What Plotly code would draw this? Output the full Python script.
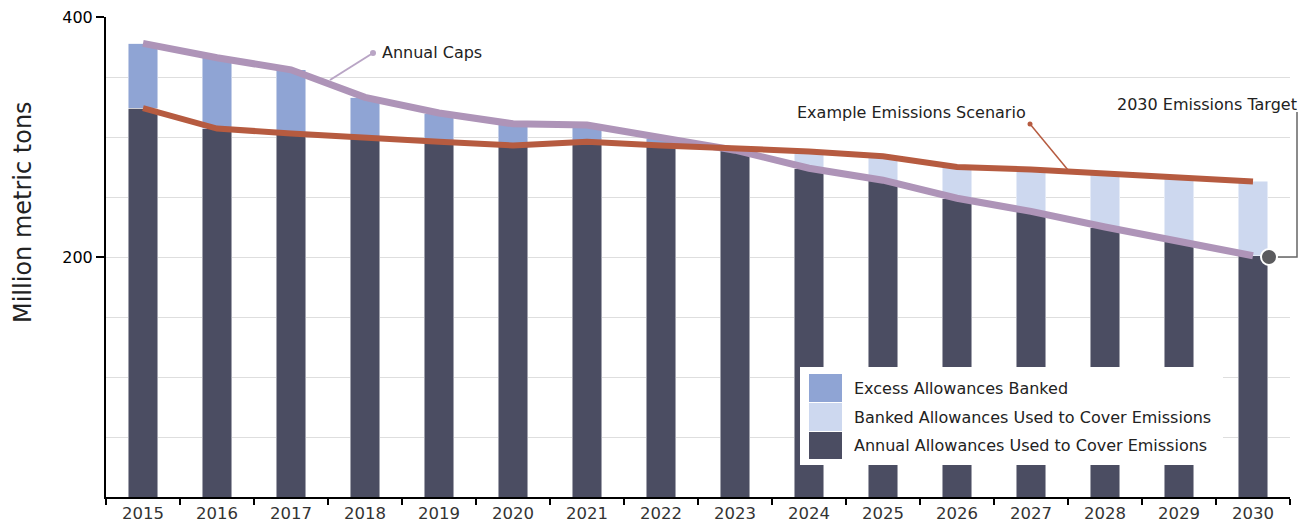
import plotly.graph_objects as go

# ---------------- data ----------------
years = [str(y) for y in range(2015, 2031)]
annual_caps = [378, 366, 356, 333, 320, 311, 310, 299, 289, 274, 264, 249, 238, 225, 213, 201]
emissions_scenario = [324, 307, 303, 299, 296, 293, 296, 293, 291, 288, 284, 275, 273, 270, 267, 263]
annual_used = [324, 307, 303, 299, 296, 293, 296, 293, 289, 274, 264, 249, 238, 225, 213, 201]
excess_banked = [54, 59, 53, 34, 24, 18, 14, 6, 0, 0, 0, 0, 0, 0, 0, 0]
banked_used = [0, 0, 0, 0, 0, 0, 0, 0, 2, 14, 20, 26, 35, 45, 54, 62]
target_2030 = 200

legend_labels = [
    "Excess Allowances Banked",
    "Banked Allowances Used to Cover Emissions",
    "Annual Allowances Used to Cover Emissions",
]

# ---------------- style ----------------
C_DARK = "#4b4d62"
C_EXCESS = "#8fa4d4"
C_BANKED = "#cdd8ef"
C_CAP = "#ae94b8"
C_EMIS = "#b65b40"
FONT = "DejaVu Sans"

# page body has an 8px default margin; plot area targeted at page px
OFF = 8
PLOT_L, PLOT_R, PLOT_T, PLOT_B = 106, 1290, 17, 497
W, H = 1307 - OFF - 2, 527 - OFF - 2
L, T = PLOT_L - OFF, PLOT_T - OFF
R = W - (PLOT_R - OFF)
B = H - (PLOT_B - OFF)
PW, PH = PLOT_R - PLOT_L, PLOT_B - PLOT_T


def px_x(x):
    return (x - PLOT_L) / PW


def px_y(y):
    return (PLOT_B - y) / PH


fig = go.Figure()
bar_line = dict(width=0.8, color="rgba(255,255,255,0.6)")
fig.add_trace(go.Bar(x=years, y=annual_used, name=legend_labels[2],
                     marker=dict(color=C_DARK, line=bar_line)))
fig.add_trace(go.Bar(x=years, y=excess_banked, name=legend_labels[0],
                     marker=dict(color=C_EXCESS, line=bar_line)))
fig.add_trace(go.Bar(x=years, y=banked_used, name=legend_labels[1],
                     marker=dict(color=C_BANKED, line=bar_line)))
fig.add_trace(go.Scatter(x=years, y=annual_caps, mode="lines", name="Annual Caps",
                         line=dict(color=C_CAP, width=7)))
fig.add_trace(go.Scatter(x=years, y=emissions_scenario, mode="lines",
                         name="Example Emissions Scenario",
                         line=dict(color=C_EMIS, width=6)))

shapes = []
annotations = []

# Annual caps callout
shapes.append(dict(type="line", xref="paper", yref="paper",
                   x0=px_x(373), y0=px_y(53), x1=px_x(330), y1=px_y(80),
                   line=dict(color="#b9a5c5", width=2)))
shapes.append(dict(type="circle", xref="paper", yref="paper",
                   x0=px_x(370), x1=px_x(376), y0=px_y(50), y1=px_y(56),
                   fillcolor="#b9a5c5", line=dict(width=0)))
annotations.append(dict(text="Annual Caps", xref="paper", yref="paper",
                        x=px_x(380), y=px_y(53), xanchor="left", yanchor="middle",
                        showarrow=False, font=dict(size=16, color="#222", family=FONT)))

# Emissions scenario callout
shapes.append(dict(type="line", xref="paper", yref="paper",
                   x0=px_x(1030), y0=px_y(124), x1=px_x(1068), y1=px_y(170),
                   line=dict(color=C_EMIS, width=1.5)))
shapes.append(dict(type="circle", xref="paper", yref="paper",
                   x0=px_x(1027.5), x1=px_x(1032.5), y0=px_y(121.5), y1=px_y(126.5),
                   fillcolor=C_EMIS, line=dict(width=0)))
annotations.append(dict(text="Example Emissions Scenario", xref="paper", yref="paper",
                        x=px_x(1028), y=px_y(113), xanchor="right", yanchor="middle",
                        showarrow=False, font=dict(size=16, color="#222", family=FONT)))

# 2030 target callout
ty = target_2030 / 400.0
shapes.append(dict(type="path", xref="paper", yref="paper",
                   path=f"M {px_x(1297)} {px_y(112)} L {px_x(1297)} {ty} L {px_x(1268)} {ty}",
                   line=dict(color="#666", width=1.5)))
shapes.append(dict(type="circle", xref="paper", yref="paper",
                   x0=px_x(1261), x1=px_x(1277),
                   y0=ty - 8 / PH, y1=ty + 8 / PH,
                   fillcolor="#5b5b5e", line=dict(color="white", width=2)))
annotations.append(dict(text="2030 Emissions Target", xref="paper", yref="paper",
                        x=px_x(1299), y=px_y(104), xanchor="right", yanchor="middle",
                        showarrow=False, font=dict(size=16, color="#222", family=FONT)))

# Custom legend
shapes.append(dict(type="rect", xref="paper", yref="paper",
                   x0=px_x(800), x1=px_x(1223), y0=px_y(367), y1=px_y(465),
                   fillcolor="white", line=dict(width=0), layer="above"))
sw_colors = [C_EXCESS, C_BANKED, C_DARK]
rows = [(374, 402), (403, 431), (432, 459)]
for lab, col, (y0, y1) in zip(legend_labels, sw_colors, rows):
    shapes.append(dict(type="rect", xref="paper", yref="paper",
                       x0=px_x(809), x1=px_x(842), y0=px_y(y0), y1=px_y(y1),
                       fillcolor=col, line=dict(width=0), layer="above"))
    annotations.append(dict(text=lab, xref="paper", yref="paper",
                            x=px_x(852), y=px_y((y0 + y1) / 2), xanchor="left",
                            yanchor="middle", showarrow=False,
                            font=dict(size=16, color="#222", family=FONT)))

# Y axis title
annotations.append(dict(text="Million metric tons", xref="paper", yref="paper",
                        x=px_x(23), y=px_y(212), xanchor="center", yanchor="middle",
                        textangle=-90, showarrow=False,
                        font=dict(size=24, color="#222", family=FONT)))

fig.update_layout(
    width=W, height=H,
    margin=dict(l=L, r=R, t=T, b=B, autoexpand=False),
    plot_bgcolor="white", paper_bgcolor="white",
    barmode="stack", bargap=0.595,
    showlegend=False,
    font=dict(family=FONT, color="#222"),
    shapes=shapes, annotations=annotations,
    xaxis=dict(type="category", tickson="boundaries", ticks="outside", ticklen=6,
               tickwidth=2, tickcolor="black", showline=True, linecolor="black",
               linewidth=2, showgrid=False, range=[-0.5, 15.5], automargin=False,
               ticklabeloverflow="allow",
               tickfont=dict(size=16.5, color="#333", family=FONT)),
    yaxis=dict(range=[0, 400], tickvals=[200, 400], ticks="outside", ticklen=8,
               tickwidth=2, tickcolor="black", showline=True, linecolor="black",
               linewidth=2, showgrid=True, gridcolor="#dedede", gridwidth=1,
               zeroline=False, automargin=False, ticklabeloverflow="allow",
               minor=dict(dtick=50, tick0=0, showgrid=True, gridcolor="#dedede",
                          gridwidth=1, ticks=""),
               tickfont=dict(size=16, color="black", family=FONT)),
)

fig.write_html("out.html")
